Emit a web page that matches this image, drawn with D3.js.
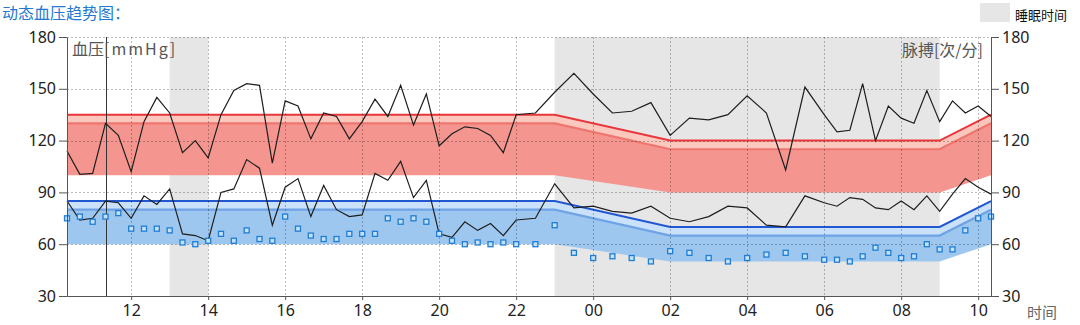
<!DOCTYPE html>
<html>
<head>
<meta charset="utf-8">
<script src="https://cdn.jsdelivr.net/npm/d3@7"></script>
<style>
  html, body { margin: 0; padding: 0; background: #fff; }
  svg { display: block; }
  text { font-family: "Noto Sans", "Open Sans", sans-serif; }
  .cjk { font-family: "Noto Sans CJK SC", "Noto Sans", sans-serif; }
</style>
</head>
<body>
<svg id="chart" width="1080" height="325"></svg>
<script>
// Reading times (HH:MM); readings roll over past midnight into the next day
const times = [
  "10:20","10:40","11:00","11:20","11:40","12:00","12:20","12:40","13:00","13:20","13:40",
  "14:00","14:20","14:40","15:00","15:20","15:40","16:00","16:20","16:40","17:00","17:20","17:40",
  "18:00","18:20","18:40","19:00","19:20","19:40","20:00","20:20","20:40","21:00","21:20","21:40",
  "22:00","22:30","23:00","23:30","00:00","00:30","01:00","01:30","02:00","02:30","03:00","03:30",
  "04:00","04:30","05:00","05:30","06:00","06:20","06:40","07:00","07:20","07:40","08:00","08:20",
  "08:40","09:00","09:20","09:40","10:00","10:20"
];
// Systolic pressure [mmHg]
const systolic = [
  114,100.5,101,130,123,102,131,145,136,113,120,
  110,135,149,153,152,107,143,140,121,136,134,121,
  131,144,134,152,129,147,117,124,128,127,123,113,
  135,136,148,159,147,136,137,142,123,133,132,135,
  146,136,103,151,135,125,126,153,120,140,133,130,
  149,131,143,136,140,134
];
// Diastolic pressure [mmHg]
const diastolic = [
  85,74,75,85,84,75,88,83,92,66,65,
  62,90,92,109,104,71,93,98,76,94,80,76,
  77,101,97,108,87,97,66,64,73,68,72,65,
  74,75,95,81,82,79,78,82,75,73,76,82,
  81,71,70,88,84,82,87,86,81,80,85,80,
  88,79,89,98,93,89
];
// Pulse rate [beats/min]
const pulse = [
  75,76,73,76,78,69,69,69,68,61,60,
  62,66,62,68,63,62,76,69,65,63,63,66,
  66,66,75,73,75,73,66,62,60,61,60,61,
  60,60,71,55,52,53,52,50,56,55,52,50,
  52,54,55,53,51,51,50,53,58,55,52,53,
  60,57,57,68,75,76
];

// Reference limits (day / night with transitions)
const bandTimes = ["10:20","23:00","02:00","09:00","10:20"];
const sysHigh = [135,135,120,120,135];
const sysLow  = [100,100,90,90,100];
const diaHigh = [85,85,70,70,85];
const diaLow  = [60,60,50,50,60];
const stripWidth = 5;

// Sleep periods
const sleepSpans = [["13:00","14:00"],["23:00","09:00"]];
const markerTime = "11:20";

const yTicks = [30,60,90,120,150,180];
const domainStart = "10:20";
const domainHours = 24;

// Convert a sequence of HH:MM strings to dates, stepping into the next day when the clock wraps
function toDates(list) {
  let day = 0, prev = -1;
  return list.map((s, i) => {
    const [h, m] = s.split(":").map(Number);
    const mins = h * 60 + m;
    if (i > 0 && mins < prev) day += 1;
    prev = mins;
    return new Date(2024, 0, 1 + day, h, m);
  });
}

const svg = d3.select("#chart");
const margin = { left: 67, right: 89, top: 37, bottom: 29 };
const W = 1080, H = 325;
const plotL = margin.left, plotR = W - margin.right, plotT = margin.top, plotB = H - margin.bottom;

const t0 = toDates([domainStart])[0];
const t1 = d3.timeHour.offset(t0, domainHours);
const x = d3.scaleTime().domain([t0, t1]).range([plotL, plotR]);
const y = d3.scaleLinear().domain([30, 180]).range([plotB, plotT]);

const dates = toDates(times);
const bandDates = toDates(bandTimes);

// Sleep shading
svg.append("g").selectAll("rect")
  .data(sleepSpans.map(toDates))
  .join("rect")
  .attr("x", d => x(d[0]))
  .attr("width", d => x(d[1]) - x(d[0]))
  .attr("y", plotT)
  .attr("height", plotB - plotT)
  .attr("fill", "#e6e6e6");

// Reference bands
function drawBand(high, low, c) {
  const pts = bandDates.map((d, i) => ({ d, hi: high[i], lo: low[i] }));
  const g = svg.append("g");
  g.append("path").datum(pts)
    .attr("d", d3.area().x(p => x(p.d)).y0(p => y(p.lo)).y1(p => y(p.hi - stripWidth)))
    .attr("fill", c.fill);
  g.append("path").datum(pts)
    .attr("d", d3.area().x(p => x(p.d)).y0(p => y(p.hi - stripWidth)).y1(p => y(p.hi)))
    .attr("fill", c.strip);
  g.append("path").datum(pts)
    .attr("d", d3.line().x(p => x(p.d)).y(p => y(p.hi - stripWidth)))
    .attr("fill", "none").attr("stroke", c.inner).attr("stroke-width", 2.2);
  g.append("path").datum(pts)
    .attr("d", d3.line().x(p => x(p.d)).y(p => y(p.hi)))
    .attr("fill", "none").attr("stroke", c.outer).attr("stroke-width", 2);
}
drawBand(sysHigh, sysLow, { fill: "#f4968f", strip: "#fcc7bc", inner: "#ee7570", outer: "#e8363b" });
drawBand(diaHigh, diaLow, { fill: "#9dc7ef", strip: "#c9e1fa", inner: "#6fa3e6", outer: "#2257d2" });

// Grid (dotted)
const grid = svg.append("g").attr("stroke", "rgba(0,0,0,0.26)").attr("stroke-dasharray", "2,2").attr("stroke-width", 1);
grid.selectAll("line.h").data(yTicks.filter(v => v > 30)).join("line")
  .attr("x1", plotL).attr("x2", plotR)
  .attr("y1", d => Math.round(y(d)) + 0.5).attr("y2", d => Math.round(y(d)) + 0.5);
const xTicks = x.ticks(d3.timeHour.every(2));
grid.selectAll("line.v").data(xTicks).join("line")
  .attr("y1", plotT).attr("y2", plotB)
  .attr("x1", d => Math.round(x(d)) + 0.5).attr("x2", d => Math.round(x(d)) + 0.5);

// Measurement marker line
const mx = Math.round(x(toDates([markerTime])[0])) + 0.5;
svg.append("line").attr("x1", mx).attr("x2", mx).attr("y1", plotT).attr("y2", plotB)
  .attr("stroke", "#333").attr("stroke-width", 1);

// Pressure traces
const trace = d3.line().x((d, i) => x(dates[i])).y(d => y(d));
[systolic, diastolic].forEach(series => {
  svg.append("path").datum(series)
    .attr("d", trace)
    .attr("fill", "none").attr("stroke", "#1e1e1e").attr("stroke-width", 1.2)
    .attr("stroke-linejoin", "miter");
});

// Pulse markers
svg.append("g").selectAll("rect")
  .data(pulse)
  .join("rect")
  .attr("x", (d, i) => x(dates[i]) - 2.5)
  .attr("y", d => y(d) - 2.5)
  .attr("width", 5).attr("height", 5)
  .attr("fill", "#c4e1f8").attr("stroke", "#1f7ed4").attr("stroke-width", 1.3);

// Axes
function styleAxis(g) {
  g.selectAll("path, line").attr("stroke", "#555");
  g.selectAll("text").attr("fill", "#222").style("font-size", "16px");
}
svg.append("g").attr("transform", `translate(${plotL},0)`)
  .call(d3.axisLeft(y).tickValues(yTicks).tickSize(8).tickSizeOuter(0).tickPadding(3))
  .call(styleAxis);
svg.append("g").attr("transform", `translate(${plotR},0)`)
  .call(d3.axisRight(y).tickValues(yTicks).tickSize(8).tickSizeOuter(0).tickPadding(3))
  .call(styleAxis);
svg.append("g").attr("transform", `translate(0,${plotB})`)
  .call(d3.axisBottom(x).ticks(d3.timeHour.every(2)).tickFormat(d3.timeFormat("%H")).tickSize(4).tickSizeOuter(0).tickPadding(5))
  .call(styleAxis);

// Titles and axis captions
svg.append("text").attr("class", "cjk").attr("x", 2).attr("y", 19)
  .attr("fill", "#2479cf").style("font-size", "16px").text("动态血压趋势图：");

const bpLabel = svg.append("text").attr("class", "cjk").attr("x", 72).attr("y", 55)
  .attr("fill", "#555").style("font-size", "16px");
bpLabel.append("tspan").text("血压");
bpLabel.append("tspan").attr("letter-spacing", "2px").text("[mmHg]");

svg.append("text").attr("class", "cjk").attr("x", 983).attr("y", 56)
  .attr("text-anchor", "end").attr("fill", "#555").style("font-size", "16px").text("脉搏[次/分]");

svg.append("text").attr("class", "cjk").attr("x", 1027).attr("y", 318)
  .attr("fill", "#666").style("font-size", "15px").text("时间");

// Legend
svg.append("rect").attr("x", 980).attr("y", 3).attr("width", 30).attr("height", 19).attr("fill", "#e6e6e6");
svg.append("text").attr("class", "cjk").attr("x", 1015).attr("y", 20)
  .attr("fill", "#111").style("font-size", "13px").text("睡眠时间");
</script>
</body>
</html>
